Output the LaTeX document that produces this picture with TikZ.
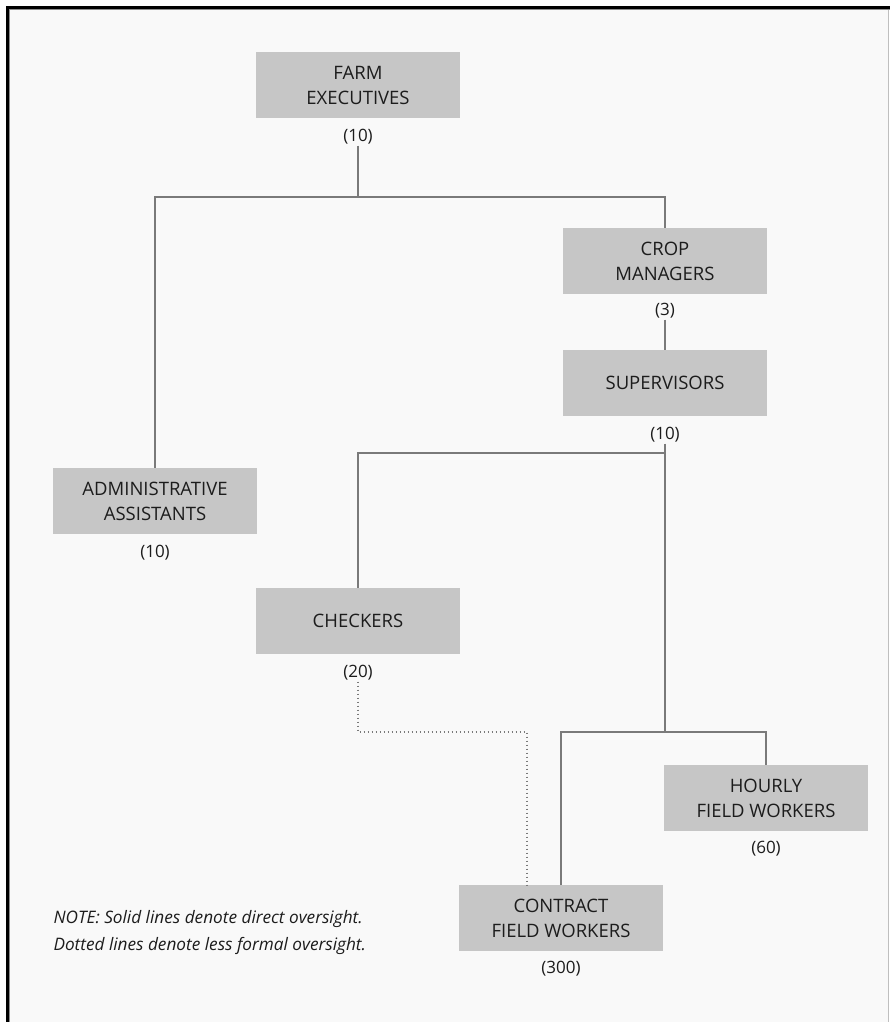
\documentclass[tikz,border=0pt]{standalone}
\usepackage{fontspec}
\setmainfont{Open Sans}
\usetikzlibrary{positioning}

\definecolor{boxgray}{HTML}{C6C6C6}
\definecolor{linegray}{HTML}{7A7A7A}
\definecolor{paper}{HTML}{F9F9F9}
\definecolor{ink}{HTML}{1C1C1C}

\begin{document}
\begin{tikzpicture}[x=1pt, y=-1pt,
	unit/.style={fill=boxgray, minimum width=204pt, minimum height=66pt, inner sep=0pt, align=center, text=ink, font=\fontsize{18.5}{25}\selectfont},
	count/.style={inner sep=1pt, text=ink, font=\fontsize{17}{18}\selectfont},
	link/.style={draw=linegray, line width=1.2pt},
	loose/.style={draw=linegray, line width=1.2pt, dash pattern=on 1.4pt off 2.6pt}]

		% page and frame
		\useasboundingbox (0,0) rectangle (890,1022);
		\fill[white] (0,0) rectangle (890,1022);
		\fill[paper] (7,7) rectangle (888,1022);
		\draw[black!25, line width=0.6pt] (888,9) -- (888,1022);
		\draw[black!45, line width=1.2pt] (9.5,1022) -- (9.5,9.5) -- (890,9.5);
		\draw[black, line width=2.5pt] (7.5,1022) -- (7.5,7.5) -- (890,7.5);

		\node [unit] (farm) at (358,85) {FARM\\EXECUTIVES};
		\node [count, below=10pt of farm] (farmN) {(10)};
		\node [unit] (crop) at (665,261) {CROP\\MANAGERS};
		\node [count, below=8pt of crop] (cropN) {(3)};
		\node [unit] (super) at (665,383) {SUPERVISORS};
		\node [count, below=10pt of super] (superN) {(10)};
		\node [unit] (admin) at (155,501) {ADMINISTRATIVE\\ASSISTANTS};
		\node [count, below=10pt of admin] (adminN) {(10)};
		\node [unit] (checkers) at (358,621) {CHECKERS};
		\node [count, below=10pt of checkers] (checkersN) {(20)};
		\node [unit] (hourly) at (766,798) {HOURLY\\FIELD WORKERS};
		\node [count, below=9pt of hourly] (hourlyN) {(60)};
		\node [unit] (contract) at (561,918) {CONTRACT\\FIELD WORKERS};
		\node [count, below=9pt of contract] (contractN) {(300)};

		\node [anchor=west, align=left, text=ink, font=\fontsize{17.2}{27}\selectfont\itshape] (note) at (50,933)
			{NOTE: Solid lines denote direct oversight.\\Dotted lines denote less formal oversight.};

		\coordinate (top) at (358,197);
		\coordinate (split) at (665,453);
		\coordinate (fork) at (665,732);
		\coordinate (bend) at (527,732);

		\draw[link] (farmN) -- (top);
		\draw[link] (admin) |- (top) -| (crop);
		\draw[link] (cropN) -- (super);
		\draw[link] (superN) -- (fork);
		\draw[link] (checkers) |- (split);
		\draw[link] (contract) |- (fork) -| (hourly);
		\draw[loose] (checkersN) |- (bend) -- (bend |- contract.north);
	\end{tikzpicture}
\end{document}
